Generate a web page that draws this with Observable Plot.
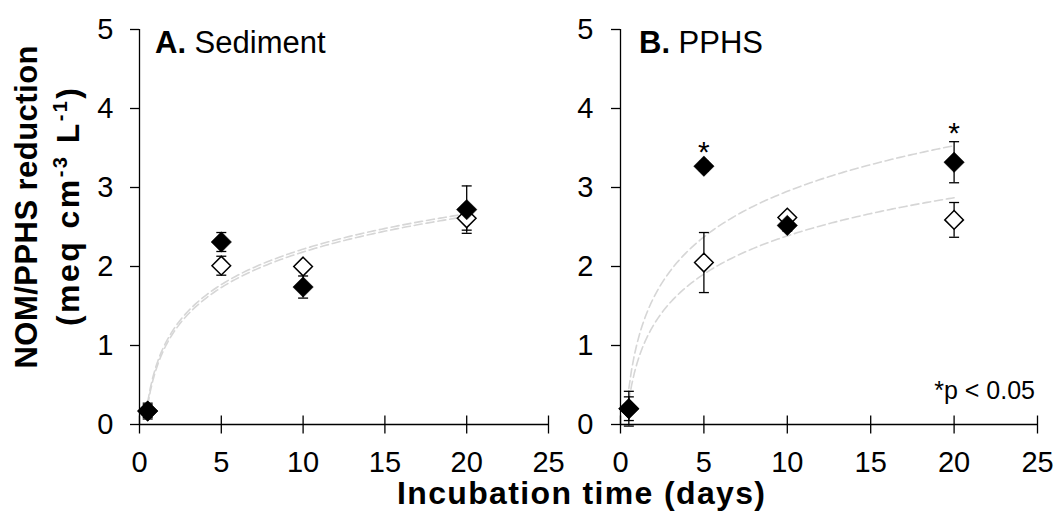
<!DOCTYPE html>
<html>
<head>
<meta charset="utf-8">
<script src="https://cdn.jsdelivr.net/npm/d3@7"></script>
<script src="https://cdn.jsdelivr.net/npm/@observablehq/plot@0.6"></script>
<style>
html, body { margin: 0; padding: 0; background: #fff; }
#wrap { position: relative; width: 1056px; height: 523px; overflow: hidden; background: #fff;
        font-family: "Liberation Sans", Arial, sans-serif; }
#wrap > svg { position: absolute; }
</style>
</head>
<body>
<div id="wrap"></div>
<script>
// ---------------- data ----------------
const days = [0.5, 5, 10, 20];
const xTicks = [0, 5, 10, 15, 20, 25];
const yTicks = [0, 1, 2, 3, 4, 5];

// Panel A: Sediment
const sedFilled    = [0.17, 2.31, 1.74, 2.72];
const sedFilledErr = [0.10, 0.12, 0.14, 0.30];
const sedOpen      = [0.17, 2.01, 2.00, 2.61];
const sedOpenErr   = [0.08, 0.12, 0.05, 0.15];

// Panel B: PPHS
const pphsFilled    = [0.20, 3.27, 2.52, 3.32];
const pphsFilledErr = [0.22, 0.06, 0.07, 0.26];
const pphsOpen      = [0.20, 2.05, 2.62, 2.59];
const pphsOpenErr   = [0.15, 0.38, 0.05, 0.22];
const pphsSigDays   = [5, 20];

const panelTitles = [["A.", " Sediment"], ["B.", " PPHS"]];
const yTitle1 = "NOM/PPHS reduction";
const xTitle = "Incubation time (days)";
const pNote = "*p < 0.05";

// ---------------- helpers ----------------
const FONT = "Liberation Sans, Arial, sans-serif";
const TICK_FS = 29;
function rows(vals, errs) { return days.map((d, i) => ({x: d, y: vals[i], e: errs[i]})); }
// logarithmic least-squares trendline y = a ln(x) + b, computed from the data
function logTrend(vals) {
  const lx = days.map(Math.log);
  const mx = d3.mean(lx), my = d3.mean(vals);
  const sxy = d3.sum(lx, (v, i) => (v - mx) * (vals[i] - my));
  const sxx = d3.sum(lx, v => (v - mx) ** 2);
  const a = sxy / sxx, b = my - a * mx;
  const x0 = d3.min(days), x1 = d3.max(days);
  return d3.range(0, 121).map(i => { const x = x0 + (x1 - x0) * i / 120; return {x, y: a * Math.log(x) + b}; });
}
const capSymbol = {draw(ctx) { ctx.moveTo(-5, 0); ctx.lineTo(5, 0); }};
const crossTick = {draw(ctx) { ctx.moveTo(0, -9); ctx.lineTo(0, 9); }};

function errMarks(data) {
  return [
    Plot.ruleX(data, {x: "x", y1: d => d.y - d.e, y2: d => d.y + d.e, stroke: "black", strokeWidth: 1.3}),
    Plot.dot(data, {x: "x", y: d => d.y + d.e, symbol: capSymbol, stroke: "black", strokeWidth: 1.3, fill: "none"}),
    Plot.dot(data, {x: "x", y: d => d.y - d.e, symbol: capSymbol, stroke: "black", strokeWidth: 1.3, fill: "none"})
  ];
}

function panel({filled, filledErr, open, openErr, sig, width, marginLeft, marginRight, tickPadding}) {
  const f = rows(filled, filledErr), o = rows(open, openErr);
  const marks = [
    Plot.line(logTrend(open), {x: "x", y: "y", stroke: "#d6d6d6", strokeWidth: 1.6, strokeDasharray: "8,4"}),
    Plot.line(logTrend(filled), {x: "x", y: "y", stroke: "#d6d6d6", strokeWidth: 1.6, strokeDasharray: "8,4"}),
    Plot.ruleY([0], {stroke: "black", strokeWidth: 1.3}),
    Plot.ruleX([0], {stroke: "black", strokeWidth: 1.3}),
    Plot.dot(xTicks, {x: d => d, y: () => 0, symbol: crossTick, stroke: "black", strokeWidth: 1.3, fill: "none"}),
    Plot.axisY({ticks: yTicks, tickSize: 9, tickPadding, fontSize: TICK_FS, strokeWidth: 1.3, label: null, tickFormat: d => String(d)}),
    Plot.axisX({ticks: xTicks, tickSize: 0, tickPadding: 27, fontSize: TICK_FS, label: null, tickFormat: d => String(d)}),
    ...errMarks(o),
    ...errMarks(f),
    Plot.dot(o, {x: "x", y: "y", symbol: "diamond2", r: 8.4, fill: "white", stroke: "black", strokeWidth: 1.5}),
    Plot.dot(f, {x: "x", y: "y", symbol: "diamond2", r: 9.2, fill: "black", stroke: "black", strokeWidth: 0.5})
  ];
  if (sig) {
    const s = f.filter(d => sig.includes(d.x));
    marks.push(Plot.text(s, {x: "x", y: d => d.y + d.e, text: () => "*", fontSize: 30, lineAnchor: "bottom", dy: 1, fill: "black"}));
  }
  return Plot.plot({
    width, height: 470,
    marginLeft, marginRight, marginTop: 29, marginBottom: 46,
    x: {domain: [0, 25]},
    y: {domain: [0, 5]},
    style: {background: "transparent", overflow: "visible", fontFamily: FONT, fontSize: TICK_FS + "px", color: "black"},
    marks
  });
}

const wrap = document.getElementById("wrap");
const svgA = panel({filled: sedFilled, filledErr: sedFilledErr, open: sedOpen, openErr: sedOpenErr,
                    width: 580, marginLeft: 139, marginRight: 32, tickPadding: 17});
svgA.style.left = "0px"; svgA.style.top = "0px";
wrap.appendChild(svgA);
const svgB = panel({filled: pphsFilled, filledErr: pphsFilledErr, open: pphsOpen, openErr: pphsOpenErr, sig: pphsSigDays,
                    width: 476, marginLeft: 40, marginRight: 19, tickPadding: 18});
svgB.style.left = "580px"; svgB.style.top = "0px";
wrap.appendChild(svgB);

// ---------------- overlay text: titles ----------------
const ov = d3.select(wrap).append("svg")
  .attr("width", 1056).attr("height", 523)
  .style("left", "0px").style("top", "0px").style("pointer-events", "none")
  .attr("font-family", FONT).attr("fill", "black");

[[155, 53.3], [639, 53.3]].forEach(([x, y], i) => {
  const t = ov.append("text").attr("x", x).attr("y", y).attr("font-size", 31);
  t.append("tspan").attr("font-weight", "bold").text(panelTitles[i][0]);
  t.append("tspan").text(panelTitles[i][1]);
});

ov.append("text").attr("x", 1035).attr("y", 399).attr("font-size", 25).attr("text-anchor", "end").text(pNote);

ov.append("text").attr("x", 581).attr("y", 504).attr("font-size", 32).attr("font-weight", "bold")
  .attr("text-anchor", "middle").attr("textLength", 368).attr("lengthAdjust", "spacing").text(xTitle);

ov.append("text").attr("transform", "translate(37,207) rotate(-90)").attr("font-size", 31).attr("font-weight", "bold")
  .attr("text-anchor", "middle").attr("textLength", 323).attr("lengthAdjust", "spacing").text(yTitle1);

const y2 = ov.append("text").attr("transform", "translate(79,207) rotate(-90)").attr("font-size", 32).attr("font-weight", "bold")
  .attr("text-anchor", "middle").attr("textLength", 238).attr("lengthAdjust", "spacing");
y2.append("tspan").text("(meq cm");
y2.append("tspan").attr("font-size", 20).attr("dy", -12).text("-3");
y2.append("tspan").attr("dy", 12).text(" L");
y2.append("tspan").attr("font-size", 20).attr("dy", -12).text("-1");
y2.append("tspan").attr("dy", 12).text(")");
</script>
</body>
</html>
